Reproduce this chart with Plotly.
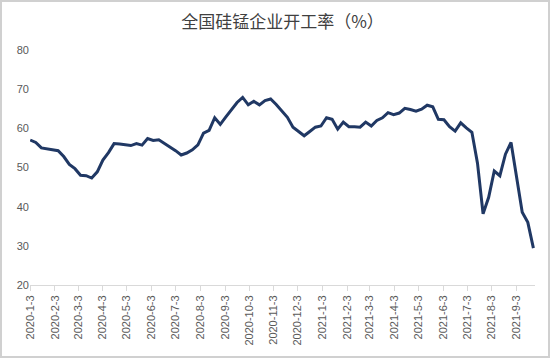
import pandas as pd
import plotly.graph_objects as go

start_date = "2020-01-03"
n_weeks = 91
dates = pd.date_range(start_date, periods=n_weeks, freq="7D")

rate = [
    57.0, 56.4, 55.0, 54.8, 54.6, 54.3, 52.8, 50.8, 49.7, 48.0,
    47.9, 47.3, 48.9, 51.9, 53.8, 56.1, 56.0, 55.8, 55.6, 56.1,
    55.7, 57.4, 56.9, 57.1, 56.2, 55.2, 54.3, 53.2, 53.7, 54.5,
    55.8, 58.8, 59.5, 62.7, 61.0, 62.9, 64.7, 66.6, 67.9, 66.0,
    66.9, 66.0, 67.1, 67.5, 66.1, 64.3, 62.8, 60.3, 59.1, 58.1,
    59.2, 60.3, 60.6, 62.7, 62.3, 59.8, 61.6, 60.4, 60.4, 60.3,
    61.6, 60.6, 62.0, 62.7, 64.0, 63.5, 63.9, 65.1, 64.8, 64.4,
    64.9, 65.9, 65.5, 62.3, 62.2, 60.4, 59.3, 61.4, 60.1, 59.0,
    51.1, 38.2, 42.4, 49.1, 47.9, 53.4, 56.4, 47.7, 38.6, 36.0,
    29.4,
]

tick_dates = pd.date_range("2020-01-01", "2021-09-01", freq="MS") + pd.Timedelta(days=2)
tick_labels = [f"{d.year}-{d.month}-{d.day}" for d in tick_dates]
y_ticks = [20, 30, 40, 50, 60, 70, 80]

title = "全国硅锰企业开工率（%）"

W, H = 550, 358
ml, mr, mt, mb = 30, 15, 50, 73
pw, ph = W - ml - mr, H - mt - mb

fig = go.Figure()
fig.add_trace(go.Scatter(
    x=dates, y=rate, mode="lines",
    line=dict(color="#203864", width=3),
    hoverinfo="x+y",
))

fig.update_layout(
    width=W, height=H,
    margin=dict(l=ml, r=mr, t=mt, b=mb, autoexpand=False),
    paper_bgcolor="white", plot_bgcolor="white",
    showlegend=False,
    title=dict(text=title, x=0.5, xanchor="center", xref="paper",
               y=1 - 22 / H, yanchor="middle",
               font=dict(family="Noto Sans CJK SC", size=17, color="#404040")),
    font=dict(family="Liberation Sans", color="#595959", size=11),
    xaxis=dict(
        type="date",
        automargin=False,
        range=["2020-01-02 18:00", "2021-09-26"],
        tickvals=list(tick_dates), ticktext=tick_labels,
        tickangle=-90,
        ticks="outside", ticklen=5, tickcolor="#d9d9d9",
        showline=True, linecolor="#d9d9d9", linewidth=1,
        showgrid=False, zeroline=False,
        tickfont=dict(size=11, color="#595959"),
    ),
    yaxis=dict(
        automargin=False,
        range=[20, 80],
        tickvals=y_ticks,
        showgrid=False, zeroline=False, showline=False,
        ticks="",
        tickfont=dict(size=11, color="#595959"),
    ),
    shapes=[dict(
        type="rect", xref="paper", yref="paper",
        x0=(-ml + 1) / pw, x1=1 + (mr - 1) / pw,
        y0=(-mb + 1) / ph, y1=1 + (mt - 1) / ph,
        line=dict(color="#d0d0d0", width=2), fillcolor="rgba(0,0,0,0)",
        layer="above",
    )],
)

fig.write_html(
    "out.html",
    config={"displayModeBar": False},
    post_script="document.body.style.margin='0';document.body.style.overflow='hidden';",
)
